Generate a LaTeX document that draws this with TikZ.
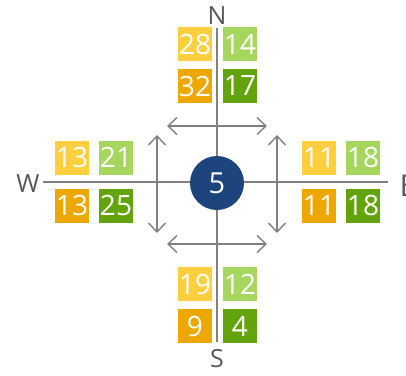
\documentclass[tikz,border=0pt]{standalone}
\usepackage{fontspec}
\setmainfont{Open Sans}
\usetikzlibrary{arrows.meta}
\definecolor{sunlight}{RGB}{255,207,64}
\definecolor{sundark}{RGB}{237,168,0}
\definecolor{leaflight}{RGB}{166,214,94}
\definecolor{leafdark}{RGB}{99,164,12}
\definecolor{hubblue}{RGB}{30,68,125}
\definecolor{axisgray}{RGB}{128,128,128}
\definecolor{lettergray}{RGB}{89,89,89}

\begin{document}
\begin{tikzpicture}[x=1pt, y=-1pt,
	cell/.style={minimum size=34pt, inner sep=0pt, text=white, font=\fontsize{28}{28}\selectfont},
	compass/.style={text=lettergray, inner sep=0pt, font=\fontsize{25}{25}\selectfont},
	axis/.style={axisgray, line width=2pt},
	swap/.style={axisgray, line width=1.4pt, {Straight Barb[length=9pt,width=17pt]}-{Straight Barb[length=9pt,width=17pt]}}]
	\useasboundingbox (0,0) rectangle (406,375);
	% compass letters
	\node[compass] (N) at (217,16) {N};
	\node[compass] (S) at (217,359) {S};
	\node[compass] (W) at (28,184) {W};
	\node[compass, font=\fontsize{30}{30}\selectfont] (E) at (408,186) {E};
	% axes
	\draw[axis] (217,28) coordinate (ntop) -- (217,342) coordinate (sbot);
	\draw[axis] (43,182) coordinate (wend) -- (388,182) coordinate (eend);
	% arrow ends
	\coordinate (tl) at (167,126); \coordinate (tr) at (267,126);
	\coordinate (bl) at (167,244); \coordinate (br) at (267,244);
	\coordinate (lt) at (157,135); \coordinate (lb) at (157,233);
	\coordinate (rt) at (277,135); \coordinate (rb) at (277,233);
	\draw[swap] (tl) -- (tr);
	\draw[swap] (bl) -- (br);
	\draw[swap] (lt) -- (lb);
	\draw[swap] (rt) -- (rb);
	% hub
	\node[circle, fill=hubblue, minimum size=54pt, inner sep=0pt, text=white, font=\fontsize{29}{29}\selectfont] (hub) at (217,183) {5};
	% north
	\node[cell, fill=sunlight] (n1) at (195,44) {28};
	\node[cell, fill=leaflight] (n2) at (240,44) {14};
	\node[cell, fill=sundark] (n3) at (195,86) {32};
	\node[cell, fill=leafdark] (n4) at (240,86) {17};
	% west
	\node[cell, fill=sunlight] (w1) at (72,157.5) {13};
	\node[cell, fill=leaflight] (w2) at (116,157.5) {21};
	\node[cell, fill=sundark] (w3) at (72,205.5) {13};
	\node[cell, fill=leafdark] (w4) at (116,205.5) {25};
	% east
	\node[cell, fill=sunlight] (e1) at (319,157.5) {11};
	\node[cell, fill=leaflight] (e2) at (363,157.5) {18};
	\node[cell, fill=sundark] (e3) at (319,205.5) {11};
	\node[cell, fill=leafdark] (e4) at (363,205.5) {18};
	% south
	\node[cell, fill=sunlight] (s1) at (195,284) {19};
	\node[cell, fill=leaflight] (s2) at (240,284) {12};
	\node[cell, fill=sundark] (s3) at (195,326) {9};
	\node[cell, fill=leafdark] (s4) at (240,326) {4};
\end{tikzpicture}
\end{document}
